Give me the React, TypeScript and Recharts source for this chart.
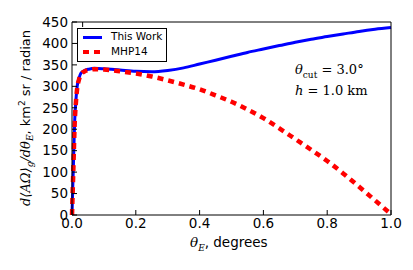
import { LineChart, Line, XAxis, YAxis } from "recharts";

// theta_E, degrees
const thetaE = [
  0, 0.002, 0.004, 0.006, 0.0085, 0.012, 0.016, 0.022, 0.028, 0.04, 0.053, 0.07,
  0.1, 0.15, 0.2, 0.25, 0.3, 0.35, 0.4, 0.45, 0.5, 0.55, 0.6, 0.65, 0.7, 0.75,
  0.8, 0.85, 0.9, 0.95, 1.0,
];
const thisWork = [
  0, 55, 105, 160, 221, 265, 299, 319, 331, 337, 340, 342,
  341, 338, 335, 334, 337, 343, 352, 361, 370, 379, 387, 395, 403, 410,
  416, 422, 428, 433, 437,
];
const mhp14 = [
  0, 50, 100, 155, 215, 260, 294, 316, 328, 335, 338, 340,
  339, 335, 330, 323, 314, 304, 293, 279, 264, 246, 226, 202, 177, 152,
  126, 97, 66, 34, 2,
];
const xTicks = [0, 0.2, 0.4, 0.6, 0.8, 1.0];
const yTicks = [0, 50, 100, 150, 200, 250, 300, 350, 400, 450];

const rows = thetaE.map((t, i) => ({ t, a: thisWork[i], b: mhp14[i] }));

const SANS = "'DejaVu Sans', sans-serif";
const SERIF = "'DejaVu Serif', serif";
const tickFont = { fontSize: 13.5, fill: "#000", fontFamily: SANS };
const axisLine = { stroke: "#000", strokeWidth: 1 };
const noLabel = () => <g />;

export default function App() {
  return (
    <div style={{ position: "absolute", left: 0, top: 0, width: 413, height: 270, background: "#fff" }}>
      <LineChart
        width={413}
        height={270}
        data={rows}
        margin={{ top: 21, right: 21, bottom: 25, left: 0 }}
      >
        <XAxis
          dataKey="t"
          type="number"
          domain={[0, 1]}
          ticks={xTicks}
          tickFormatter={(v) => v.toFixed(1)}
          tick={tickFont}
          tickSize={-5}
          tickMargin={8}
          axisLine={axisLine}
          tickLine={axisLine}
          height={30}
        />
        <XAxis
          xAxisId="top"
          orientation="top"
          type="number"
          domain={[0, 1]}
          ticks={xTicks}
          tick={noLabel}
          tickSize={-5}
          axisLine={axisLine}
          tickLine={axisLine}
          height={1}
        />
        <YAxis
          type="number"
          domain={[0, 450]}
          ticks={yTicks}
          tick={tickFont}
          tickSize={-5}
          tickMargin={9}
          axisLine={axisLine}
          tickLine={axisLine}
          width={72}
        />
        <YAxis
          yAxisId="right"
          orientation="right"
          type="number"
          domain={[0, 450]}
          ticks={yTicks}
          tick={noLabel}
          tickSize={-5}
          axisLine={axisLine}
          tickLine={axisLine}
          width={1}
        />
        <Line
          dataKey="a"
          type="monotone"
          stroke="#0000ff"
          strokeWidth={3}
          dot={false}
          isAnimationActive={false}
        />
        <Line
          dataKey="b"
          type="monotone"
          stroke="#ff0000"
          strokeWidth={4.5}
          strokeDasharray="6 5"
          dot={false}
          isAnimationActive={false}
        />
      </LineChart>

      {/* legend */}
      <div
        style={{
          position: "absolute",
          left: 77,
          top: 28,
          width: 90,
          height: 34,
          border: "1px solid #000",
          background: "#fff",
          boxSizing: "border-box",
          fontFamily: SANS,
          fontSize: 10.5,
        }}
      >
        <div style={{ position: "absolute", left: 5, top: 7, width: 19, height: 3, background: "#0000ff" }} />
        <div style={{ position: "absolute", left: 33, top: 1 }}>This Work</div>
        <div
          style={{
            position: "absolute",
            left: 5,
            top: 21,
            width: 19,
            height: 4,
            backgroundImage: "linear-gradient(90deg, #ff0000 0 6px, transparent 6px 11px)",
            backgroundSize: "11px 4px",
          }}
        />
        <div style={{ position: "absolute", left: 33, top: 16 }}>MHP14</div>
      </div>

      {/* annotation */}
      <div style={{ position: "absolute", left: 295, top: 62, fontFamily: SERIF, fontSize: 13, lineHeight: "15px", whiteSpace: "nowrap" }}>
        <div>
          <i>θ</i>
          <sub style={{ fontSize: 9 }}>cut</sub> = 3.0°
        </div>
        <div>
          <i>h</i> = 1.0 km
        </div>
      </div>

      {/* x label */}
      <div style={{ position: "absolute", left: 190, top: 234, fontSize: 13.5, whiteSpace: "nowrap", fontFamily: SANS }}>
        <i style={{ fontFamily: SERIF }}>θ</i>
        <sub style={{ fontFamily: SERIF, fontStyle: "italic", fontSize: 9 }}>E</sub>, degrees
      </div>

      {/* y label */}
      <div
        style={{
          position: "absolute",
          left: 0,
          top: 0,
          transformOrigin: "0 0",
          transform: "translate(26px, 118px) rotate(-90deg) translate(-50%, -50%)",
          fontSize: 13,
          whiteSpace: "nowrap",
          fontFamily: SANS,
        }}
      >
        <span style={{ fontFamily: SERIF, fontStyle: "italic" }}>
          d⟨AΩ⟩<sub style={{ fontSize: 9 }}>g</sub>/dθ<sub style={{ fontSize: 9 }}>E</sub>
        </span>
        , km<sup style={{ fontSize: 9 }}>2</sup> sr / radian
      </div>
    </div>
  );
}
